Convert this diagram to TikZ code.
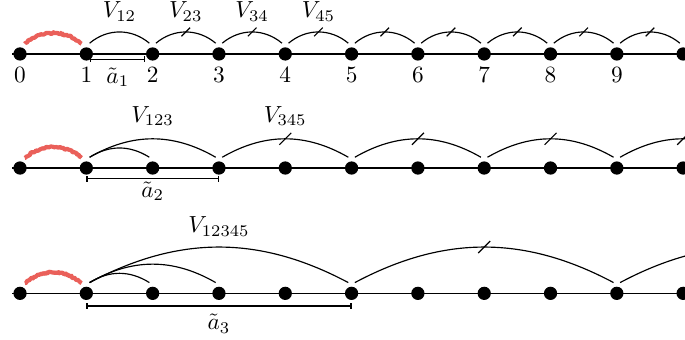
\documentclass[tikz,border=0pt]{standalone}
\usepackage{amsmath,amssymb}
\usepackage{tikz}
\usetikzlibrary{arrows.meta, decorations.pathmorphing, decorations.markings}

\definecolor{fuzzred}{RGB}{234,96,90}

\begin{document}
\begin{tikzpicture}[
  x=1mm, y=1mm,
  dot/.style={
    circle,
    fill=black,
    inner sep=0pt,
    minimum size=2mm,
    outer sep=0.7mm,
  },
  num/.style={
    label={[label distance=-1mm]below:#1},
  },
  link/.style={
    line width=0.5pt,
  },
  slashed/.style={
    postaction={decorate},
    decoration={markings,
      mark=at position 0.5 with {\draw[line width=0.5pt] (-#1,-#1) -- (#1,#1);}},
  },
  spanbar/.style={
    {Bar[width=2.5pt]}-{Bar[width=2.5pt]},
    line width=0.5pt,
  },
  warmup/.style={
    draw=fuzzred,
    line width=1.8pt,
    line join=round,
    decorate,
    decoration={random steps, segment length=0.5pt, amplitude=0.35pt},
  },
]

\useasboundingbox (-3.02,-42.99) rectangle (100.28,8.14);
\clip (-3.02,-42.99) rectangle (100.28,8.14);
\pgfmathsetseed{7}

% ============================================================
% ROW 1: pair terms
% ============================================================
\coordinate (r1beg) at (-1.2,0);
\coordinate (r1end) at (104,0);
\draw[link] (r1beg) -- (r1end);

\node[dot, num=0] (r1n0)  at (0,0)   {};
\node[dot, num=1] (r1n1)  at (10,0)  {};
\node[dot, num=2] (r1n2)  at (20,0)  {};
\node[dot, num=3] (r1n3)  at (30,0)  {};
\node[dot, num=4] (r1n4)  at (40,0)  {};
\node[dot, num=5] (r1n5)  at (50,0)  {};
\node[dot, num=6] (r1n6)  at (60,0)  {};
\node[dot, num=7] (r1n7)  at (70,0)  {};
\node[dot, num=8] (r1n8)  at (80,0)  {};
\node[dot, num=9] (r1n9)  at (90,0)  {};
\node[dot]        (r1n10) at (100,0) {};

\draw[warmup] (r1n0.65) to[bend left=40] (r1n1.115);

\draw[link] (r1n1.73) to[bend left=40] node[above=1pt] {$V_{12}$} (r1n2.107);
\draw[link, slashed=0.65] (r1n2.73) to[bend left=40] node[above=1pt] {$V_{23}$} (r1n3.107);
\draw[link, slashed=0.65] (r1n3.73) to[bend left=40] node[above=1pt] {$V_{34}$} (r1n4.107);
\draw[link, slashed=0.65] (r1n4.73) to[bend left=40] node[above=1pt] {$V_{45}$} (r1n5.107);
\draw[link, slashed=0.65] (r1n5.73) to[bend left=40] (r1n6.107);
\draw[link, slashed=0.65] (r1n6.73) to[bend left=40] (r1n7.107);
\draw[link, slashed=0.65] (r1n7.73) to[bend left=40] (r1n8.107);
\draw[link, slashed=0.65] (r1n8.73) to[bend left=40] (r1n9.107);
\draw[link, slashed=0.65] (r1n9.73) to[bend left=40] (r1n10.107);

\draw[spanbar] ([shift={(0.6,-0.8)}]r1n1.center) -- ([shift={(-1.1,-0.8)}]r1n2.center)
  node[midway, below] {$\tilde{a}_1$};

% ============================================================
% ROW 2: triple terms
% ============================================================
\coordinate (r2beg) at (-1.2,-17.2);
\coordinate (r2end) at (104,-17.2);
\coordinate (r2x11) at (109.5,-15.57);
\draw[link] (r2beg) -- (r2end);

\node[dot] (r2n0)  at (0,-17.2)   {};
\node[dot] (r2n1)  at (10,-17.2)  {};
\node[dot] (r2n2)  at (20,-17.2)  {};
\node[dot] (r2n3)  at (30,-17.2)  {};
\node[dot] (r2n4)  at (40,-17.2)  {};
\node[dot] (r2n5)  at (50,-17.2)  {};
\node[dot] (r2n6)  at (60,-17.2)  {};
\node[dot] (r2n7)  at (70,-17.2)  {};
\node[dot] (r2n8)  at (80,-17.2)  {};
\node[dot] (r2n9)  at (90,-17.2)  {};
\node[dot] (r2n10) at (100,-17.2) {};

\draw[warmup] (r2n0.65) to[bend left=40] (r2n1.115);

\draw[link] (r2n1.73) to[bend left=32] (r2n2.107);
\draw[link] (r2n1.73) to[bend left=30] node[above=2pt] {$V_{123}$} (r2n3.107);
\draw[link, slashed=0.9] (r2n3.73) to[bend left=30] node[above=2pt] {$V_{345}$} (r2n5.107);
\draw[link, slashed=0.9] (r2n5.73) to[bend left=30] (r2n7.107);
\draw[link, slashed=0.9] (r2n7.73) to[bend left=30] (r2n9.107);
\draw[link, slashed=0.9] (r2n9.73) to[bend left=30] (r2x11);

\draw[spanbar] ([yshift=-1.6mm]r2n1.center) -- ([yshift=-1.6mm]r2n3.center)
  node[midway, below, inner sep=1pt] {$\tilde{a}_2$};

% ============================================================
% ROW 3: five-site terms
% ============================================================
\coordinate (r3beg) at (-1.2,-36.1);
\coordinate (r3end) at (104,-36.1);
\coordinate (r3x13) at (129.5,-34.47);
\draw[link] (r3beg) -- (r3end);

\node[dot] (r3n0)  at (0,-36.1)   {};
\node[dot] (r3n1)  at (10,-36.1)  {};
\node[dot] (r3n2)  at (20,-36.1)  {};
\node[dot] (r3n3)  at (30,-36.1)  {};
\node[dot] (r3n4)  at (40,-36.1)  {};
\node[dot] (r3n5)  at (50,-36.1)  {};
\node[dot] (r3n6)  at (60,-36.1)  {};
\node[dot] (r3n7)  at (70,-36.1)  {};
\node[dot] (r3n8)  at (80,-36.1)  {};
\node[dot] (r3n9)  at (90,-36.1)  {};
\node[dot] (r3n10) at (100,-36.1) {};

\draw[warmup] (r3n0.65) to[bend left=40] (r3n1.115);

\draw[link] (r3n1.73) to[bend left=32] (r3n2.107);
\draw[link] (r3n1.73) to[bend left=30] (r3n3.107);
\draw[link] (r3n1.73) to[bend left=28] node[above=1pt] {$V_{12345}$} (r3n5.107);
\draw[link, slashed=0.9] (r3n5.73) to[bend left=28] (r3n9.107);
\draw[link, slashed=0.9] (r3n9.73) to[bend left=28] (r3x13);

\draw[spanbar] ([yshift=-1.9mm]r3n1.center) -- ([yshift=-1.9mm]r3n5.center)
  node[midway, below] {$\tilde{a}_3$};

\end{tikzpicture}
\end{document}
